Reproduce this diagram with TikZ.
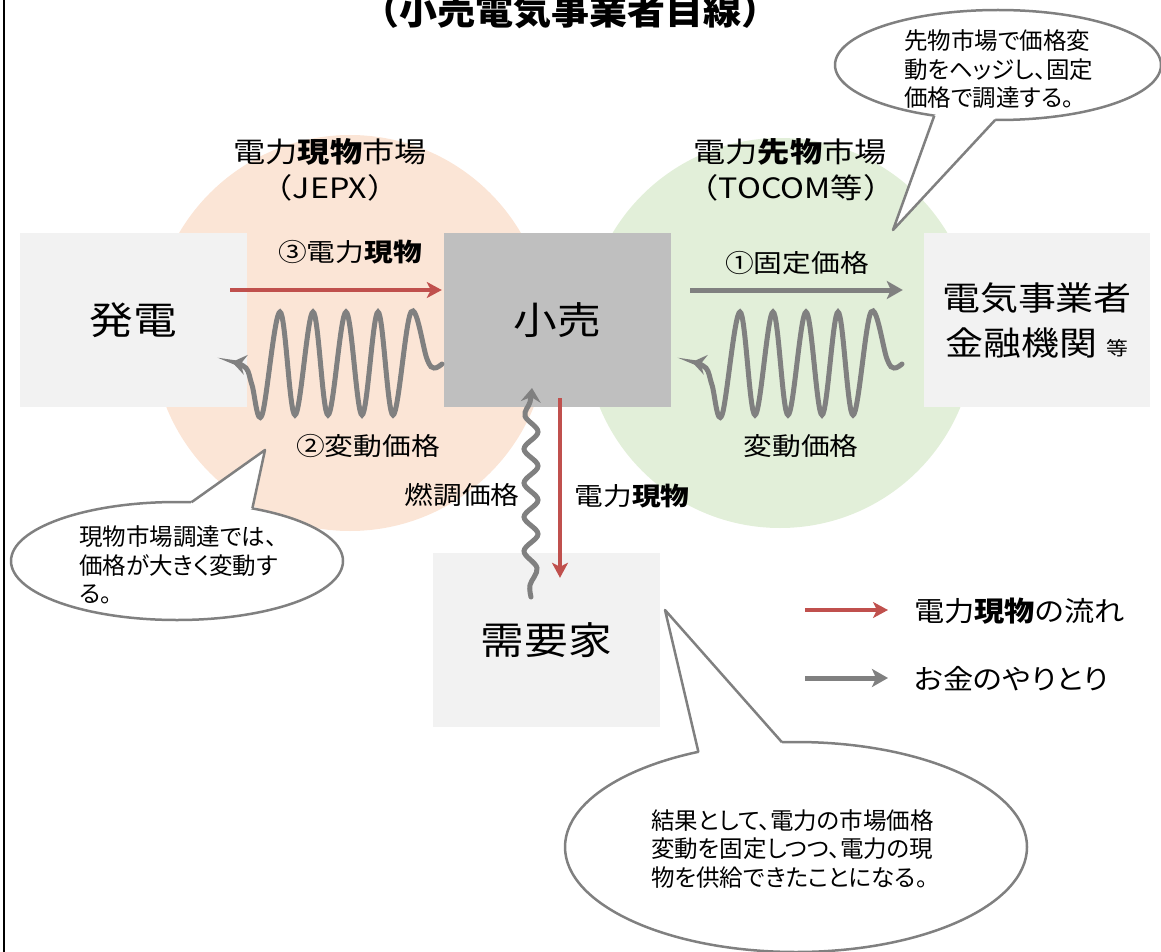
\documentclass[tikz,border=0pt]{standalone}
\usepackage{fontspec}
\setmainfont{Noto Sans CJK JP}
\newfontfamily\wfont{Noto Sans CJK JP}[FakeStretch=1.15]
\newfontfamily\wpfont{Noto Sans CJK JP}[FakeStretch=1.1,RawFeature=+palt]
\newfontfamily\pfont{Noto Sans CJK JP}[RawFeature=+palt]
\usetikzlibrary{arrows.meta,calc}
\definecolor{peach}{HTML}{FBE5D6}
\definecolor{lgreen}{HTML}{E2EFD9}
\definecolor{boxgray}{HTML}{F2F2F2}
\definecolor{darkbox}{HTML}{BFBFBF}
\definecolor{pred}{HTML}{C0504D}
\definecolor{mgray}{HTML}{808080}
\begin{document}
\begin{tikzpicture}[x=1pt,y=-1pt,
  box/.style={draw=none, inner sep=0pt, minimum width=227pt, minimum height=174pt, align=center, font=\wfont\fontsize{38}{38}\selectfont},
  lab/.style={inner sep=0pt, font=\wfont\fontsize{25}{25}\selectfont},
  mkt/.style={inner sep=0pt, font=\wfont\fontsize{28}{28}\selectfont},
  leg/.style={inner sep=0pt, anchor=west, font=\wpfont\fontsize{27.5}{27.5}\selectfont},
  ctext/.style={inner sep=0pt, anchor=west, align=left, font=\pfont\fontsize{23.5}{28.5}\selectfont},
  callout/.style={draw=mgray, line width=2.5pt, line join=round},
  redarr/.style={draw=pred, line width=4pt, -{Stealth[length=15pt,width=16pt,inset=4pt]}},
  grayarr/.style={draw=mgray, line width=5pt, -{Stealth[length=16pt,width=18pt,inset=4pt]}},
  wave/.style={draw=mgray, line width=5pt, line cap=round, -{Stealth[length=14pt,width=20pt,inset=5pt]}}]
\useasboundingbox (0,0) rectangle (1161,952);
\clip (0,0) rectangle (1161,952);

% market circles
\fill[peach] (350,333) circle[radius=198pt];
\fill[lgreen] (780,333) circle[radius=195pt];

% title
\node[anchor=base, inner sep=0pt, font=\bfseries\fontsize{38}{38}\selectfont] (title) at (570,25) {（小売電気事業者目線）};

% market labels
\node[mkt] (m1) at (330,152) {電力\textbf{現物}市場};
\node[mkt] (m1b) at (330,188) {（JEPX）};
\node[mkt] (m2) at (790,152) {電力\textbf{先物}市場};
\node[mkt] (m2b) at (791,188) {（TOCOM等）};

% boxes
\node[box, fill=boxgray] (hatsuden) at (133.5,320) {発電};
\node[box, fill=darkbox] (kouri) at (557.5,320) {小売};
\node[box, fill=boxgray, minimum width=226pt, font=\wfont\fontsize{33}{45}\selectfont] (denki) at (1037,320) {電気事業者\\金融機関\hspace{10pt}{\fontsize{19}{19}\selectfont 等}};
\node[box, fill=boxgray] (juyo) at (546.5,640) {需要家};

% straight arrows
\coordinate (r1s) at ($(hatsuden.east)+(-17,-30)$);
\coordinate (r1e) at ($(kouri.west)+(-2,-30)$);
\draw[redarr] (r1s) -- (r1e);
\coordinate (g1s) at ($(kouri.east)+(19,-30)$);
\coordinate (g1e) at ($(denki.west)+(-21,-30)$);
\draw[grayarr] (g1s) -- (g1e);
\coordinate (r2s) at ($(kouri.south)+(2.5,-9)$);
\coordinate (r2e) at ($(juyo.north)+(13.5,25)$);
\draw[redarr] (r2s) -- (r2e);

% wavy money flows
\begin{scope}[shift={(442,365)}]
\draw[wave] plot[smooth, tension=0.6] coordinates {(0,-1) (-8,3) (-15,-6) (-31,-53) (-49,50) (-64,-53) (-80,50) (-96,-53) (-114,50) (-129,-53) (-147,50) (-162,-53) (-180,50) (-190,20) (-196,3) (-210,-3)};
\end{scope}
\begin{scope}[shift={(902,365)}]
\draw[wave] plot[smooth, tension=0.6] coordinates {(0,-1) (-8,3) (-15,-6) (-31,-53) (-49,50) (-64,-53) (-80,50) (-96,-53) (-114,50) (-129,-53) (-147,50) (-162,-53) (-180,50) (-190,20) (-196,3) (-210,-3)};
\end{scope}
\draw[wave] plot[smooth, tension=0.6] coordinates {(531,597) (530,585) (537,568) (524,551) (538,534) (524,517) (538,500) (524,483) (538,466) (524,449) (538,432) (525,416) (530,402) (532,388)};

% arrow labels
\node[lab] (l3) at (350,252) {③電力\textbf{現物}};
\node[lab] (l1) at (797,263) {①固定価格};
\node[lab] (l2) at (368,446) {②変動価格};
\node[lab] (lv) at (801,446) {変動価格};
\node[lab] (lnen) at (462,495) {燃調価格};
\node[lab] (lgen) at (632,496) {電力\textbf{現物}};

% legend
\coordinate (lr1) at (805,610);
\coordinate (lr2) at (888,610);
\draw[redarr] (lr1) -- (lr2);
\coordinate (lg1) at (805,678);
\coordinate (lg2) at (888,678);
\draw[grayarr] (lg1) -- (lg2);
\node[leg] (leg1) at (914,611) {電力\textbf{現物}の流れ};
\node[leg] (leg2) at (914,679) {お金のやりとり};

% callout 1 (top right)
\coordinate (c1) at (998,65);
\coordinate (t1) at (893,230);
\fill[white] (c1) ellipse[x radius=163pt, y radius=55pt];
\draw[callout] (c1) ellipse[x radius=163pt, y radius=55pt];
\fill[white] ($(c1)+(113:163 and 55)$) -- (t1) -- ($(c1)+(91:163 and 55)$) -- (c1) -- cycle;
\draw[callout] ($(c1)+(113:163 and 55)$) -- (t1) -- ($(c1)+(91:163 and 55)$);
\node[ctext] (ct1) at (904,69.5) {先物市場で価格変\\動をヘッジし、固定\\価格で調達する。};

% callout 2 (left)
\coordinate (c2) at (177,561);
\coordinate (t2) at (265,450);
\fill[white] (c2) ellipse[x radius=166pt, y radius=59pt];
\draw[callout] (c2) ellipse[x radius=166pt, y radius=59pt];
\fill[white] ($(c2)+(-85:166 and 59)$) -- (t2) -- ($(c2)+(-63:166 and 59)$) -- (c2) -- cycle;
\draw[callout] ($(c2)+(-85:166 and 59)$) -- (t2) -- ($(c2)+(-63:166 and 59)$);
\node[ctext] (ct2) at (79,565) {現物市場調達では、\\価格が大きく変動す\\る。};

% callout 3 (bottom)
\coordinate (c3) at (796,847);
\coordinate (t3) at (665,610);
\fill[white] (c3) ellipse[x radius=231pt, y radius=105pt];
\draw[callout] (c3) ellipse[x radius=231pt, y radius=105pt];
\fill[white] ($(c3)+(-115:231 and 105)$) -- (t3) -- ($(c3)+(-93.5:231 and 105)$) -- (c3) -- cycle;
\draw[callout] ($(c3)+(-115:231 and 105)$) -- (t3) -- ($(c3)+(-93.5:231 and 105)$);
\node[ctext] (ct3) at (651,849) {結果として、電力の市場価格\\変動を固定しつつ、電力の現\\物を供給できたことになる。};

% frame line
\draw[line width=2.5pt] (4,0) -- (4,952);
\end{tikzpicture}
\end{document}
